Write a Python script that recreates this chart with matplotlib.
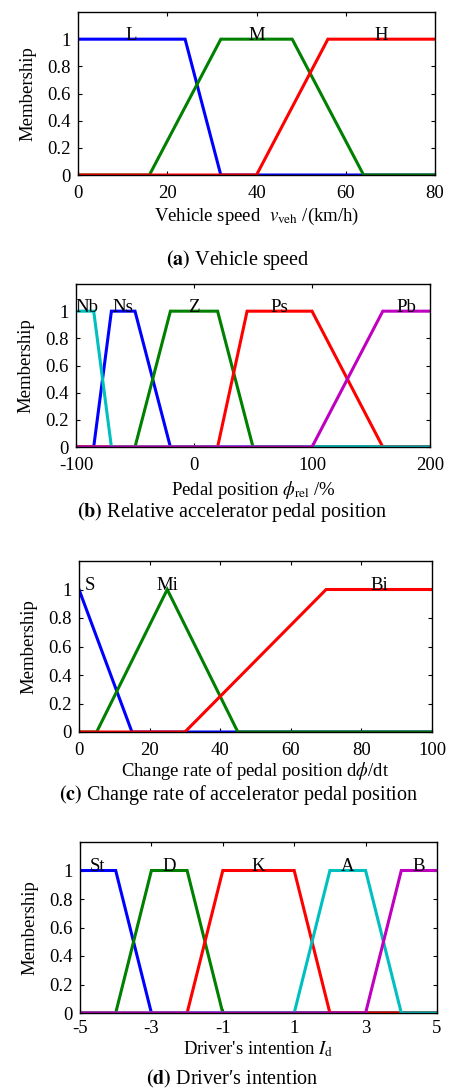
import matplotlib
matplotlib.use("Agg")
import matplotlib.pyplot as plt

plt.rcParams['font.family'] = ['Liberation Serif', 'DejaVu Serif']
plt.rcParams['mathtext.fontset'] = 'stix'
plt.rcParams['axes.unicode_minus'] = False

# ---------------- data ----------------
# (a) vehicle speed
speed_L = ([0, 24, 32, 80], [1, 1, 0, 0])
speed_M = ([0, 16, 32, 48, 64, 80], [0, 0, 1, 1, 0, 0])
speed_H = ([0, 40, 56, 80], [0, 0, 1, 1])
speed_labels = ['L', 'M', 'H']
speed_label_x = [12, 40, 68]
speed_ticks = [0, 20, 40, 60, 80]

# (b) relative pedal position
pedal_Nb = ([-100, -85, -70, 200], [1, 1, 0, 0])
pedal_Ns = ([-100, -85, -70, -50, -20, 200], [0, 0, 1, 1, 0, 0])
pedal_Z = ([-100, -50, -20, 20, 50, 200], [0, 0, 1, 1, 0, 0])
pedal_Ps = ([-100, 20, 45, 100, 160, 200], [0, 0, 1, 1, 0, 0])
pedal_Pb = ([-100, 100, 160, 200], [0, 0, 1, 1])
pedal_labels = ['Nb', 'Ns', 'Z', 'Ps', 'Pb']
pedal_label_x = [-91, -60, 0, 72.5, 180]
pedal_ticks = [-100, 0, 100, 200]

# (c) change rate of pedal position
rate_S = ([0, 15, 100], [1, 0, 0])
rate_Mi = ([0, 5, 25, 45, 100], [0, 0, 1, 0, 0])
rate_Bi = ([0, 30, 70, 100], [0, 0, 1, 1])
rate_labels = ['S', 'Mi', 'Bi']
rate_label_x = [3, 25, 85]
rate_ticks = [0, 20, 40, 60, 80, 100]

# (d) driver's intention
int_St = ([-5, -4, -3, 5], [1, 1, 0, 0])
int_D = ([-5, -4, -3, -2, -1, 5], [0, 0, 1, 1, 0, 0])
int_K = ([-5, -2, -1, 1, 2, 5], [0, 0, 1, 1, 0, 0])
int_A = ([-5, 1, 2, 3, 4, 5], [0, 0, 1, 1, 0, 0])
int_B = ([-5, 3, 4, 5], [0, 0, 1, 1])
int_labels = ['St', 'D', 'K', 'A', 'B']
int_label_x = [-4.5, -2.5, 0, 2.5, 4.5]
int_ticks = [-5, -3, -1, 1, 3, 5]

y_ticks = [0, 0.2, 0.4, 0.6, 0.8, 1]
y_ticklabels = ['0', '0.2', '0.4', '0.6', '0.8', '1']

BLUE = (0, 0, 1)
GREEN = (0, 0.5, 0)
RED = (1, 0, 0)
CYAN = (0, 0.75, 0.75)
MAG = (0.75, 0, 0.75)

W, H = 461, 1090
fig = plt.figure(figsize=(W / 100, H / 100), dpi=100)

FS = 13.5
CFS = 14.5


def make_ax(left, right, top, bottom, xpad=7.5):
    ax = fig.add_axes([left / W, 1 - bottom / H, (right - left) / W, (bottom - top) / H])
    ax.set_ylim(0, 1.2)
    ax.set_yticks(y_ticks)
    ax.set_yticklabels(y_ticklabels)
    ax.tick_params(direction='in', top=True, right=True, length=3, width=0.8,
                   labelsize=FS)
    ax.tick_params(axis='x', pad=xpad)
    ax.tick_params(axis='y', pad=5)
    for s in ax.spines.values():
        s.set_linewidth(1.0)
        s.set_color('black')
    ax.set_ylabel('Membership', fontsize=FS, labelpad=8)
    return ax


def finish(left, right, xlabel, xlab_base, caption, cap_x, cap_base):
    fig.text(((left + right) / 2) / W, 1 - xlab_base / H, xlabel, fontsize=FS,
             ha='center', va='baseline')
    fig.text(cap_x / W, 1 - cap_base / H, caption, fontsize=CFS,
             ha='center', va='baseline')


def put_labels(ax, xs, labels):
    for x, t in zip(xs, labels):
        ax.text(x, 0.995, t, fontsize=FS, ha='center', va='baseline')


LW = 2.2

# ---- (a)
L, R, T, B = 78, 435, 12, 175
ax = make_ax(L, R, T, B)
for (xs, ys), c in [(speed_L, BLUE), (speed_M, GREEN), (speed_H, RED)]:
    ax.plot(xs, ys, color=c, lw=LW, solid_joinstyle='miter')
ax.set_xlim(0, 80)
ax.set_xticks(speed_ticks)
ax.set_xticklabels([str(t) for t in speed_ticks])
put_labels(ax, speed_label_x, speed_labels)
finish(L, R, r'Vehicle speed  $v_{\mathrm{veh}}$ /(km/h)', 220.5,
       r'$\mathbf{(a)}$ Vehicle speed', 238, 265)

# ---- (b)
L, R, T, B = 76, 430, 284, 447
ax = make_ax(L, R, T, B)
for (xs, ys), c in [(pedal_Ns, BLUE), (pedal_Z, GREEN), (pedal_Ps, RED),
                    (pedal_Nb, CYAN), (pedal_Pb, MAG)]:
    ax.plot(xs, ys, color=c, lw=LW, solid_joinstyle='miter')
ax.set_xlim(-100, 200)
ax.set_xticks(pedal_ticks)
ax.set_xticklabels([str(t) for t in pedal_ticks])
put_labels(ax, pedal_label_x, pedal_labels)
finish(L, R, r'Pedal position $\phi_{\mathrm{rel}}$ /%', 495,
       r'$\mathbf{(b)}$ Relative accelerator pedal position', 232, 517)

# ---- (c)
L, R, T, B = 79, 432, 561, 732
ax = make_ax(L, R, T, B)
for (xs, ys), c in [(rate_S, BLUE), (rate_Mi, GREEN), (rate_Bi, RED)]:
    ax.plot(xs, ys, color=c, lw=LW, solid_joinstyle='miter')
ax.set_xlim(0, 100)
ax.set_xticks(rate_ticks)
ax.set_xticklabels([str(t) for t in rate_ticks])
put_labels(ax, rate_label_x, rate_labels)
finish(L, R, r'Change rate of pedal position d$\phi$/dt', 776.5,
       r'$\mathbf{(c)}$ Change rate of accelerator pedal position', 239, 800)

# ---- (d)
L, R, T, B = 80, 437, 842, 1013
ax = make_ax(L, R, T, B, xpad=5)
for (xs, ys), c in [(int_St, BLUE), (int_D, GREEN), (int_K, RED),
                    (int_A, CYAN), (int_B, MAG)]:
    ax.plot(xs, ys, color=c, lw=LW, solid_joinstyle='miter')
ax.set_xlim(-5, 5)
ax.set_xticks(int_ticks)
ax.set_xticklabels([str(t) for t in int_ticks])
put_labels(ax, int_label_x, int_labels)
finish(L, R, r"Driver's intention $I_{\mathrm{d}}$", 1054,
       "$\\mathbf{(d)}$ Driver\u2032s intention", 232, 1084)

fig.savefig('out.png', dpi=100)
